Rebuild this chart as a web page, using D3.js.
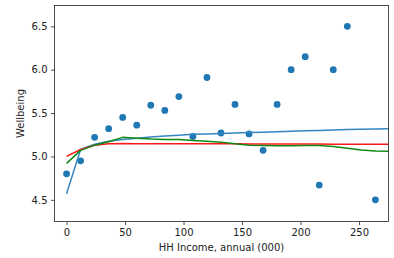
<!DOCTYPE html>
<html>
<head>
<meta charset="utf-8">
<script src="https://cdn.jsdelivr.net/npm/d3@7"></script>
<style>
  body { margin: 0; background: #fff; }
  svg { display: block; font-family: "DejaVu Sans", sans-serif; }
</style>
</head>
<body>
<div id="chart"></div>
<script>
// scatter: mean wellbeing per income bin
const incomeBins = [0, 12, 24, 36, 48, 60, 72, 84, 96, 108, 120, 132, 144, 156, 168, 180, 192, 204, 216, 228, 240, 264];
const wellbeing = [4.80, 4.95, 5.22, 5.32, 5.45, 5.36, 5.59, 5.53, 5.69, 5.23, 5.91, 5.27, 5.60, 5.26, 5.07, 5.60, 6.00, 6.15, 4.67, 6.00, 6.50, 4.50];

// fitted curves
const fitX = [0, 12, 24, 36, 48, 60, 72, 84, 96, 108, 120, 132, 144, 156, 168, 180, 192, 204, 216, 228, 240, 252, 264, 276];
const fitBlue = [4.57, 5.08, 5.14, 5.175, 5.195, 5.21, 5.225, 5.235, 5.245, 5.255, 5.26, 5.265, 5.27, 5.275, 5.28, 5.285, 5.29, 5.295, 5.30, 5.305, 5.31, 5.313, 5.317, 5.32];
const fitRed = [5.00, 5.08, 5.13, 5.145, 5.148, 5.147, 5.147, 5.146, 5.146, 5.146, 5.145, 5.145, 5.145, 5.144, 5.144, 5.143, 5.143, 5.142, 5.142, 5.141, 5.141, 5.141, 5.140, 5.140];
const fitGreen = [4.92, 5.07, 5.13, 5.17, 5.22, 5.21, 5.20, 5.195, 5.195, 5.185, 5.175, 5.165, 5.145, 5.13, 5.125, 5.123, 5.123, 5.127, 5.125, 5.115, 5.095, 5.075, 5.062, 5.06];

const xTicks = [0, 50, 100, 150, 200, 250];
const yTicks = [4.5, 5.0, 5.5, 6.0, 6.5];

const W = 394, H = 258;
const mLeft = 54.5, mRight = 388.5, mTop = 5.5, mBottom = 221.5;

const x = d3.scaleLinear().domain([-10.3, 275.2]).range([mLeft, mRight]);
const y = d3.scaleLinear().domain([4.25, 6.74]).range([mBottom, mTop]);

const svg = d3.select("#chart").append("svg")
  .attr("width", W)
  .attr("height", H);

svg.append("defs").append("clipPath").attr("id", "plot")
  .append("rect")
  .attr("x", mLeft).attr("y", mTop)
  .attr("width", mRight - mLeft).attr("height", mBottom - mTop);

// axes
const xAxis = svg.append("g")
  .attr("transform", `translate(0,${mBottom})`)
  .call(d3.axisBottom(x).tickValues(xTicks).tickSize(3.5).tickPadding(3.5).tickFormat(d3.format("d")));
const yAxis = svg.append("g")
  .attr("transform", `translate(${mLeft},0)`)
  .call(d3.axisLeft(y).tickValues(yTicks).tickSize(3.5).tickPadding(3.5).tickFormat(d3.format(".1f")));

[xAxis, yAxis].forEach(a => {
  a.select(".domain").remove();
  a.selectAll(".tick line").attr("stroke", "#222").attr("stroke-width", 0.8);
  a.selectAll(".tick text").attr("fill", "#222").style("font-size", "10px").style("font-family", "DejaVu Sans");
});

const plot = svg.append("g").attr("clip-path", "url(#plot)");

// scatter
plot.selectAll("circle")
  .data(incomeBins)
  .enter().append("circle")
  .attr("cx", d => x(d))
  .attr("cy", (d, i) => y(wellbeing[i]))
  .attr("r", 3.4)
  .attr("fill", "#1f77b4");

const line = d3.line()
  .x((d, i) => x(fitX[i]))
  .y(d => y(d));

[[fitBlue, "#3585c0"], [fitRed, "#ff1a1a"], [fitGreen, "#118811"]].forEach(([vals, col]) => {
  plot.append("path")
    .datum(vals)
    .attr("fill", "none")
    .attr("stroke", col)
    .attr("stroke-width", 1.5)
    .attr("stroke-linejoin", "round")
    .attr("d", line);
});

// frame
svg.append("rect")
  .attr("x", mLeft).attr("y", mTop)
  .attr("width", mRight - mLeft).attr("height", mBottom - mTop)
  .attr("fill", "none")
  .attr("stroke", "#222")
  .attr("stroke-width", 0.8);

// labels
svg.append("text")
  .attr("x", (mLeft + mRight) / 2)
  .attr("y", 251)
  .attr("text-anchor", "middle")
  .attr("fill", "#222")
  .style("font-size", "10px")
  .text("HH Income, annual (000)");

svg.append("text")
  .attr("transform", `translate(23.5,${(mTop + mBottom) / 2}) rotate(-90)`)
  .attr("text-anchor", "middle")
  .attr("fill", "#222")
  .style("font-size", "10px")
  .text("Wellbeing");
</script>
</body>
</html>
